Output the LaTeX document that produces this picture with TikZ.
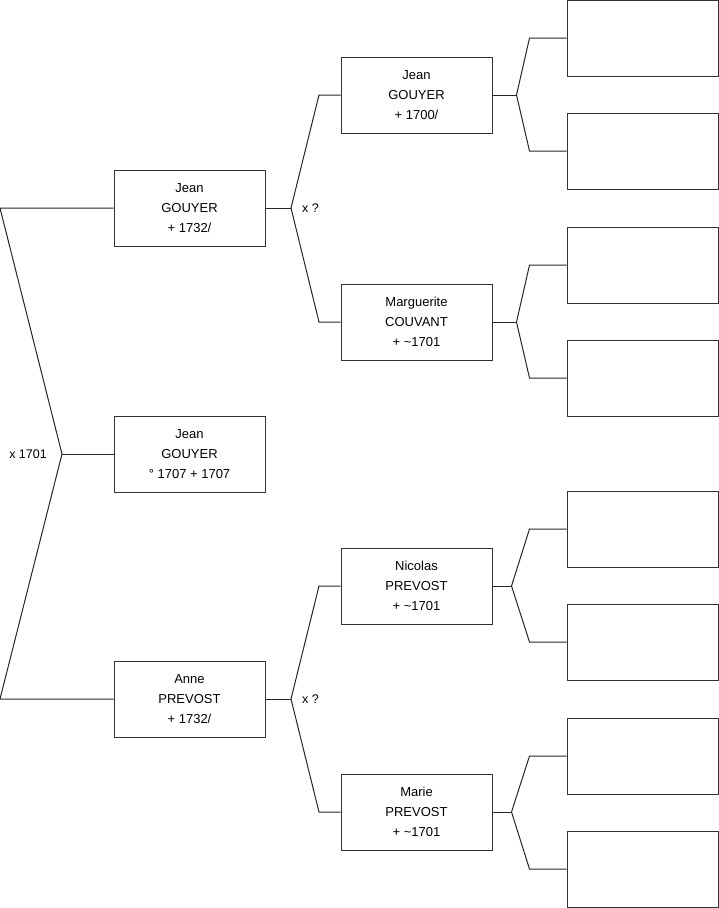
\documentclass[tikz,border=0pt]{standalone}
\usepackage{fontspec}
\setmainfont{Liberation Sans}
\usetikzlibrary{positioning}

\tikzset{
    person/.style={draw=black!80, line width=1pt, minimum width=151pt, minimum height=76pt,
        inner sep=0pt, align=center, font=\fontsize{13}{20}\selectfont},
    link/.style={draw=black!85, line width=1pt},
    union/.style={font=\fontsize{12.5}{15}\selectfont, inner sep=1pt}
}

\begin{document}
\begin{tikzpicture}[x=1pt, y=-1pt]
    \useasboundingbox (0,0) rectangle (719,908);

    % generation 1
    \node[person] (jean1) at (189.5,208) {Jean\\GOUYER\\+ 1732/};
    \node[person] (child) at (189.5,454) {Jean\\GOUYER\\\textdegree{} 1707 + 1707};
    \node[person] (anne)  at (189.5,699) {Anne\\PREVOST\\+ 1732/};

    % generation 2
    \node[person] (jean2) at (416.5,95)  {Jean\\GOUYER\\+ 1700/};
    \node[person] (marg)  at (416.5,322) {Marguerite\\COUVANT\\+ \textasciitilde1701};
    \node[person] (nico)  at (416.5,586) {Nicolas\\PREVOST\\+ \textasciitilde1701};
    \node[person] (marie) at (416.5,812) {Marie\\PREVOST\\+ \textasciitilde1701};

    % generation 3 (empty)
    \foreach \n/\y in {1/38, 2/151, 3/265, 4/378, 5/529, 6/642, 7/756, 8/869} {
        \node[person] (e\n) at (642.5,\y) {};
    }

    % couple of generation 1
    \coordinate (top)  at (0,208);
    \coordinate (mid)  at (62,454);
    \coordinate (bot)  at (0,699);
    \draw[link] (jean1.west) -- (top) -- (mid) -- (bot) -- (anne.west);
    \draw[link] (mid) -- (child.west);
    \node[union, left=14pt of mid] (m1) {x 1701};

    % parents of jean1 and anne
    \foreach \k/\a/\b/\y in {jean1/jean2/marg/208, anne/nico/marie/699} {
        \coordinate (f\k) at (291,\y);
        \coordinate (fa\k) at (\a.west -| 319,0);
        \coordinate (fb\k) at (\b.west -| 319,0);
        \draw[link] (\k.east) -- (f\k);
        \draw[link] (\a.west) -- (fa\k) -- (f\k) -- (fb\k) -- (\b.west);
        \node[union, right=10pt of f\k] {x ?};
    }

    % grandparents (empty)
    \foreach \k/\a/\b/\x in {jean2/e1/e2/516, marg/e3/e4/516, nico/e5/e6/511, marie/e7/e8/511} {
        \coordinate (g\k) at ([xshift=\x pt-492pt]\k.east);
        \coordinate (ga\k) at ([xshift=-37pt]\a.west);
        \coordinate (gb\k) at ([xshift=-37pt]\b.west);
        \draw[link] (\k.east) -- (g\k);
        \draw[link] (\a.west) -- (ga\k) -- (g\k) -- (gb\k) -- (\b.west);
    }
\end{tikzpicture}
\end{document}
